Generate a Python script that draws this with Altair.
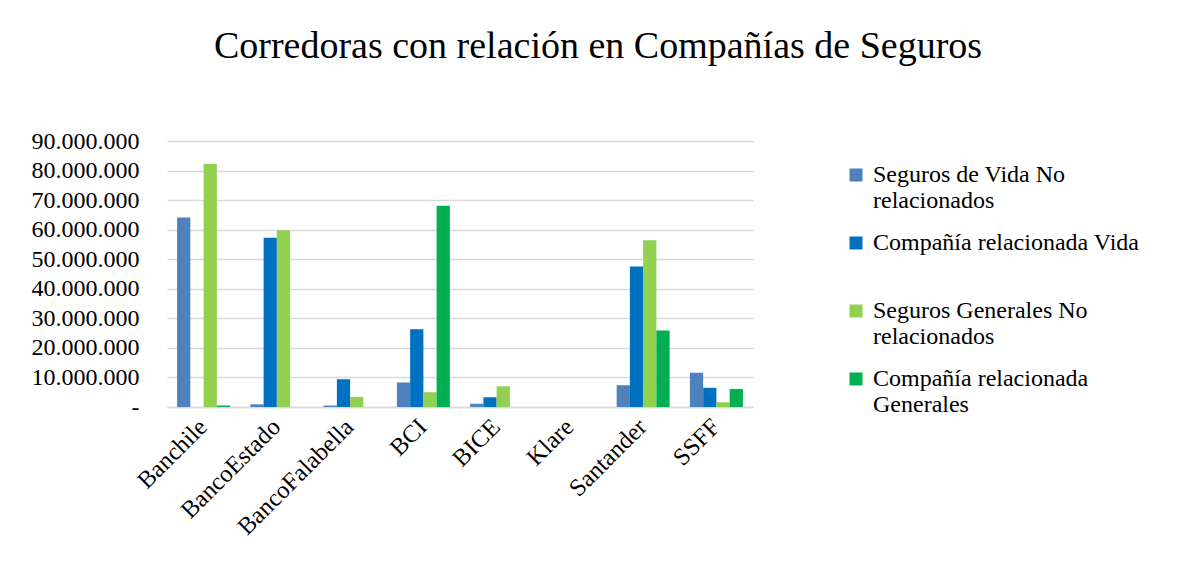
import altair as alt
import pandas as pd

categories = ["Banchile", "BancoEstado", "BancoFalabella", "BCI", "BICE", "Klare", "Santander", "SSFF"]
series = [
    "Seguros de Vida No relacionados",
    "Compañía relacionada Vida",
    "Seguros Generales No relacionados",
    "Compañía relacionada Generales",
]
vida_no_rel = [64100000, 900000, 500000, 8300000, 1100000, 0, 7400000, 11600000]
vida_rel = [0, 57300000, 9400000, 26300000, 3300000, 0, 47500000, 6500000]
gen_no_rel = [82300000, 59800000, 3400000, 5000000, 7000000, 0, 56400000, 1600000]
gen_rel = [500000, 0, 0, 68100000, 0, 0, 25900000, 6100000]
colors = ["#4F81BD", "#0070C0", "#92D050", "#00B050"]
y_ticks = [0, 10000000, 20000000, 30000000, 40000000, 50000000, 60000000, 70000000, 80000000, 90000000]

legend_lines = {
    "Seguros de Vida No relacionados": ["Seguros de Vida No", "relacionados"],
    "Compañía relacionada Vida": ["Compañía relacionada Vida", ""],
    "Seguros Generales No relacionados": ["Seguros Generales No", "relacionados"],
    "Compañía relacionada Generales": ["Compañía relacionada", "Generales"],
}

rows = []
for s, vals in zip(series, [vida_no_rel, vida_rel, gen_no_rel, gen_rel]):
    for c, v in zip(categories, vals):
        rows.append({"Corredora": c, "Serie": s, "Valor": v})
df = pd.DataFrame(rows)

expr_parts = []
for k, v in legend_lines.items():
    expr_parts.append(f"datum.label == '{k}' ? ['{v[0]}', '{v[1]}'] : ")
legend_expr = "".join(expr_parts) + "datum.label"

FONT = "Liberation Serif"

chart = alt.Chart(df).mark_bar().encode(
    x=alt.X(
        "Corredora:N",
        sort=categories,
        title=None,
        scale=alt.Scale(paddingInner=0.277, paddingOuter=0.138),
        axis=alt.Axis(
            labelAngle=-45,
            labelAlign="right",
            labelBaseline="middle",
            labelFontSize=24.5,
            labelFont=FONT,
            labelColor="#000000",
            ticks=False,
            domainColor="#D9D9D9",
            domainWidth=1.5,
            labelPadding=16,
        ),
    ),
    xOffset=alt.XOffset("Serie:N", sort=series, scale=alt.Scale(paddingInner=0, paddingOuter=0)),
    y=alt.Y(
        "Valor:Q",
        title=None,
        scale=alt.Scale(domain=[0, 90000000], nice=False),
        axis=alt.Axis(
            values=y_ticks,
            labelExpr="datum.value == 0 ? '-' : replace(format(datum.value, ',.0f'), /,/g, '.')",
            labelFontSize=24,
            labelFont=FONT,
            labelColor="#000000",
            ticks=False,
            domain=False,
            gridColor="#D9D9D9",
            gridWidth=1.5,
            labelPadding=28,
        ),
    ),
    color=alt.Color(
        "Serie:N",
        sort=series,
        scale=alt.Scale(domain=series, range=colors),
        legend=alt.Legend(
            title=None,
            orient="none",
            legendX=677,
            legendY=22,
            symbolType="square",
            symbolSize=169,
            symbolStrokeWidth=0,
            labelFont=FONT,
            labelFontSize=24,
            labelColor="#000000",
            labelExpr=legend_expr,
            labelLimit=400,
            rowPadding=18,
            labelOffset=5,
        ),
    ),
).properties(
    width=586,
    height=266,
    title=alt.Title(
        "Corredoras con relación en Compañías de Seguros",
        font=FONT,
        fontSize=38,
        fontWeight="normal",
        color="#000000",
        anchor="middle",
        frame="group",
        offset=63,
        dx=138,
    ),
    padding={"left": 23, "top": 20, "right": 10, "bottom": 10},
).configure_view(stroke=None)

chart.save("out.html", embed_options={"renderer": "svg", "actions": False})
